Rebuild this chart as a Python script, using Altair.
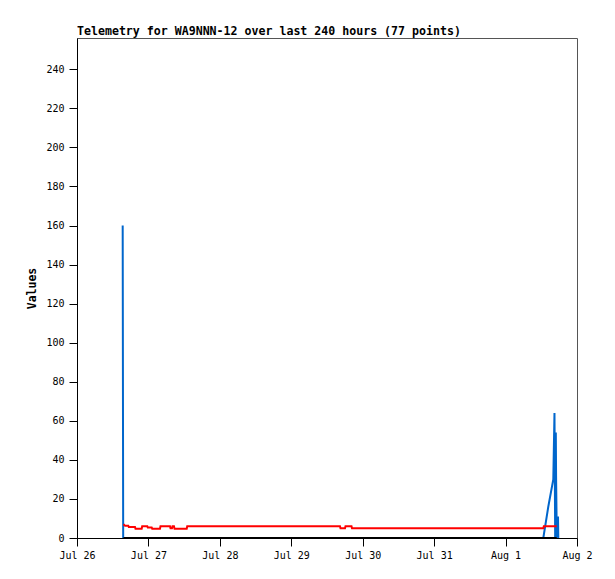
import pandas as pd
import altair as alt

# blue channel
blue_t = ["2023-07-26T15:21", "2023-07-26T15:31", "2023-08-01T12:41", "2023-08-01T14:21",
          "2023-08-01T16:02", "2023-08-01T16:26", "2023-08-01T16:40", "2023-08-01T16:53",
          "2023-08-01T16:58", "2023-08-01T17:13", "2023-08-01T17:37", "2023-08-01T17:43"]
blue_v = [160, 0, 0, 16, 30, 64, 0, 54, 32, 0, 11, 0]

# red channel
red_t = ["2023-07-26T15:37", "2023-07-26T16:08", "2023-07-26T17:14", "2023-07-26T17:24",
         "2023-07-26T19:29", "2023-07-26T19:39", "2023-07-26T21:44", "2023-07-26T21:54",
         "2023-07-26T23:37", "2023-07-26T23:47", "2023-07-27T01:06", "2023-07-27T01:16",
         "2023-07-27T03:53", "2023-07-27T04:03", "2023-07-27T07:15", "2023-07-27T07:25",
         "2023-07-27T07:55", "2023-07-27T08:05", "2023-07-27T08:35", "2023-07-27T08:46",
         "2023-07-27T12:52", "2023-07-27T13:02", "2023-07-29T16:22", "2023-07-29T16:32",
         "2023-07-29T18:03", "2023-07-29T18:13", "2023-07-29T20:14", "2023-07-29T20:24",
         "2023-08-01T12:41", "2023-08-01T12:51", "2023-08-01T17:11"]
red_v = [7, 6.3, 6.3, 5.6, 5.6, 4.8, 4.8, 6, 6, 5.4, 5.4, 4.8, 4.8, 6, 6, 5,
         5, 6, 6, 4.8, 4.8, 6, 6, 5, 5, 6, 6, 5, 5, 6, 6]

# black channel
black_t = ["2023-07-26T15:37", "2023-08-01T17:11"]
black_v = [0, 0]

day_ticks = ["2023-07-26", "2023-07-27", "2023-07-28", "2023-07-29",
             "2023-07-30", "2023-07-31", "2023-08-01", "2023-08-02"]
y_ticks = list(range(0, 241, 20))

font = "DejaVu Sans Mono"


def series(times, values, color):
    df = pd.DataFrame({"time": times, "value": values})
    return alt.Chart(df).mark_line(color=color, strokeWidth=2, clip=True).encode(
        x=alt.X("time:T")
        .scale(domain=[alt.DateTime(year=2023, month=7, date=26),
                       alt.DateTime(year=2023, month=8, date=2)])
        .axis(values=[alt.DateTime(year=int(d[:4]), month=int(d[5:7]), date=int(d[8:]))
                      for d in day_ticks],
              format="%b %-d", title=None, tickSize=8, labelPadding=4,
              labelFlush=False, labelOverlap=False),
        y=alt.Y("value:Q")
        .scale(domain=[0, 256], nice=False)
        .axis(values=y_ticks, title="Values", tickSize=8, labelPadding=5,
              titlePadding=8, titleFont=font, titleFontSize=11.5, titleFontWeight="bold"),
    )


chart = alt.layer(
    series(blue_t, blue_v, "#0066cc"),
    series(red_t, red_v, "#ff0000"),
    series(black_t, black_v, "#000000"),
).properties(
    width=500,
    height=500,
    autosize="none",
    padding={"left": 69, "top": 30, "right": 30, "bottom": 33},
    title=alt.Title("Telemetry for WA9NNN-12 over last 240 hours (77 points)",
                    anchor="start", frame="group", font=font, fontSize=11.6,
                    fontWeight="bold", offset=0, color="black"),
).configure_view(
    stroke="#555555", strokeWidth=1
).configure_axis(
    grid=False, domainColor="black", tickColor="black", labelColor="black",
    labelFont=font, labelFontSize=10, titleColor="black"
)

chart.save("out.html", embed_options={"renderer": "svg", "actions": False})
